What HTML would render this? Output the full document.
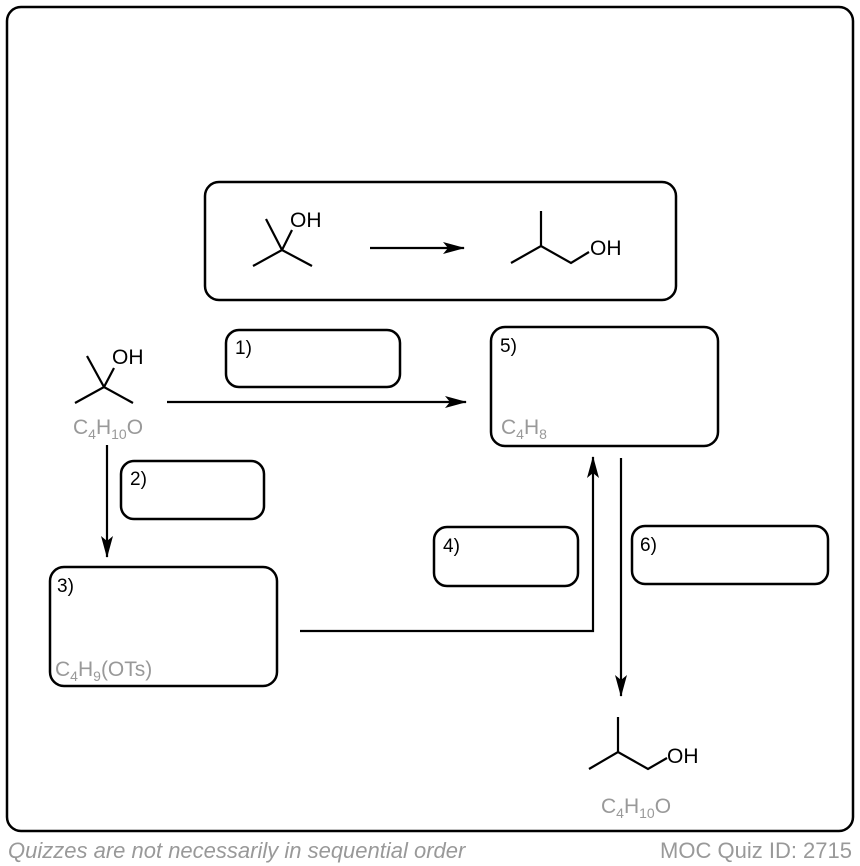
<!DOCTYPE html>
<html><head><meta charset="utf-8"><style>
html,body{margin:0;padding:0;background:#fff;}
svg{display:block;font-family:"Liberation Sans",Arial,sans-serif;}
</style></head><body>
<svg width="860" height="866" viewBox="0 0 860 866" xmlns="http://www.w3.org/2000/svg">
<defs>
<marker id="ah" markerWidth="22" markerHeight="12" refX="21" refY="6" orient="auto" markerUnits="userSpaceOnUse">
<path d="M0,0 L22,6 L0,12 L5,6 Z" fill="#000"/>
</marker>
</defs>
<g fill="none" stroke="#000" stroke-width="2.5">
<rect x="7" y="7" width="846" height="824" rx="14"/>
<rect x="205" y="182" width="471" height="118" rx="14"/>
<rect x="226" y="330" width="174" height="57" rx="13"/>
<rect x="491" y="327" width="227" height="119" rx="14"/>
<rect x="121" y="461" width="143" height="58" rx="13"/>
<rect x="50" y="567" width="227" height="119" rx="14"/>
<rect x="434" y="527" width="144" height="59" rx="13"/>
<rect x="632" y="526" width="196" height="58" rx="13"/>
</g>
<g fill="none" stroke="#000" stroke-width="2.2">
<path d="M266,219 L282,250 M253,266 L282,250 L312,266 M282,250 L292,230"/>
<path d="M511,263 L541,246 L571,263 L589,252 M541,246 L541,211"/>
<path d="M87,356 L104,387 M75,403 L104,387 L133,403 M104,387 L114,368"/>
<path d="M589,769 L618,752 L648,769 L667,758 M618,752 L618,717"/>
<path d="M370,248 L464,248" marker-end="url(#ah)"/>
<path d="M167,402 L466,402" marker-end="url(#ah)"/>
<path d="M107,445 L107,557" marker-end="url(#ah)"/>
<path d="M300,631 L593,631 L593,457" marker-end="url(#ah)"/>
<path d="M621,458 L621,696" marker-end="url(#ah)"/>
</g>
<g font-size="21" fill="#000">
<text x="290" y="227">OH</text>
<text x="590" y="255">OH</text>
<text x="112" y="364">OH</text>
<text x="667" y="763">OH</text>
</g>
<g font-size="19" fill="#000">
<text x="235" y="354">1)</text>
<text x="500" y="352">5)</text>
<text x="130" y="485">2)</text>
<text x="57" y="592">3)</text>
<text x="443" y="552">4)</text>
<text x="640" y="551">6)</text>
</g>
<g font-size="21" fill="#999">
<text x="73" y="434">C<tspan font-size="14" dy="5">4</tspan><tspan dy="-5">H</tspan><tspan font-size="14" dy="5">10</tspan><tspan dy="-5">O</tspan></text>
<text x="501" y="434">C<tspan font-size="14" dy="5">4</tspan><tspan dy="-5">H</tspan><tspan font-size="14" dy="5">8</tspan></text>
<text x="55" y="676">C<tspan font-size="14" dy="5">4</tspan><tspan dy="-5">H</tspan><tspan font-size="14" dy="5">9</tspan><tspan dy="-5">(OTs)</tspan></text>
<text x="601" y="813">C<tspan font-size="14" dy="5">4</tspan><tspan dy="-5">H</tspan><tspan font-size="14" dy="5">10</tspan><tspan dy="-5">O</tspan></text>
<text x="8" y="858" font-size="22" font-style="italic">Quizzes are not necessarily in sequential order</text>
<text x="852" y="858" font-size="22" text-anchor="end">MOC Quiz ID: 2715</text>
</g>
</svg>
</body></html>
